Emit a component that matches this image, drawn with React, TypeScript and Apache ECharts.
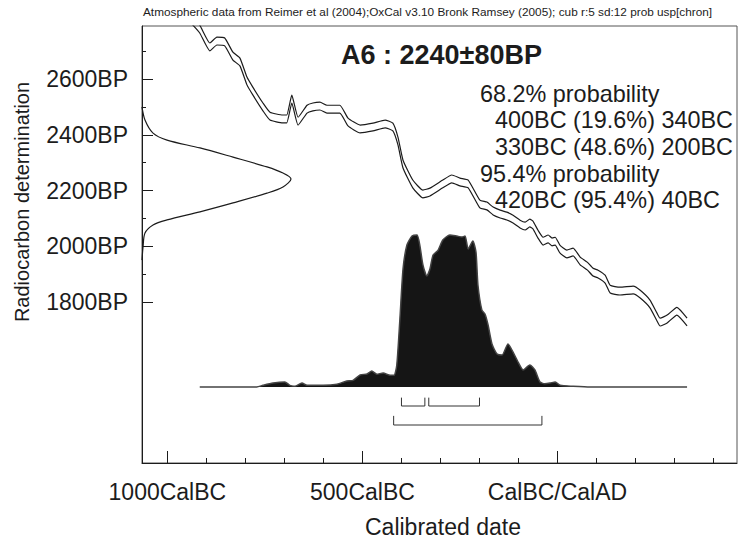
import React, { useEffect, useRef } from "react";
import * as echarts from "echarts";

const FONT = '"Liberation Sans", Arial, Helvetica, sans-serif';
const INK = "#1c1c1c";

// Axis ranges and ticks
const X_MIN = -1065;
const X_MAX = 460;
const Y_MIN = 1224;
const Y_MAX = 2790;
const X_MAJOR = [-1000, -500, 0];
const X_MINOR = [-900, -800, -700, -600, -400, -300, -200, -100, 100, 200, 300, 400];
const Y_MAJOR = [1800, 2000, 2200, 2400, 2600];
const Y_MINOR = [1900, 2100, 2300, 2500, 2700];

// Calibration curve (mean BP) and its 1-sigma half-width
const CURVE_YEARS = [
  -937, -917, -891, -873, -853, -832, -814, -796, -781, -755, -737, -704, -694, -681, -665, -642,
  -627, -609, -591, -558, -537, -506, -473, -442, -422, -409, -396, -371, -345, -327, -294, -271,
  -250, -229, -199, -181, -165, -147, -130, -114, -96, -83, -71, -63, -50, -37, -24, -14,
  -6, 6, 24, 40, 58, 76, 91, 104, 122, 135, 160, 194, 212, 237, 255, 263,
  281, 306, 332,
];
const CURVE_BP = [
  2811, 2779, 2715, 2736, 2733, 2682, 2661, 2593, 2557, 2500, 2467, 2457, 2457, 2528, 2449, 2492,
  2500, 2503, 2492, 2492, 2446, 2421, 2428, 2439, 2428, 2378, 2295, 2224, 2188, 2195, 2224, 2242,
  2231, 2224, 2152, 2145, 2127, 2116, 2109, 2098, 2080, 2073, 2084, 2077, 2044, 2019, 2027, 2016,
  2019, 1991, 1973, 1980, 1948, 1930, 1908, 1901, 1883, 1847, 1840, 1844, 1829, 1794, 1747, 1729,
  1740, 1768, 1729,
];
const CURVE_SIGMA = 14;

// Radiocarbon determination 2240±80BP (relative probability along BP axis)
const GAUSS_BP = [2500, 2453, 2406, 2381, 2353, 2320, 2285, 2263, 2242, 2213, 2191, 2156, 2124, 2095, 2077, 2048, 1998, 1951];
const GAUSS_P = [0, 0.02, 0.074, 0.168, 0.389, 0.611, 0.839, 0.946, 1.0, 0.946, 0.839, 0.611, 0.389, 0.168, 0.074, 0.02, 0.007, 0];

// Calibrated date probability distribution (relative)
const DENS_YEARS = [
  -917, -771, -755, -729, -699, -686, -673, -655, -642, -601, -565, -540, -524, -506, -488, -476,
  -463, -447, -429, -419, -412, -404, -396, -386, -373, -360, -353, -345, -335, -327, -319, -306,
  -294, -276, -258, -245, -237, -229, -217, -209, -204, -194, -186, -178, -168, -155, -142, -127,
  -114, -101, -88, -71, -58, -45, -33, -19, -6, 7, 40, 83, 332,
];
const DENS_P = [
  0, 0, 0.011, 0.026, 0.033, 0.011, 0.005, 0.026, 0.011, 0.011, 0.018, 0.04, 0.044, 0.079, 0.086, 0.105,
  0.084, 0.092, 0.077, 0.077, 0.143, 0.447, 0.776, 0.934, 0.993, 1.0, 0.934, 0.803, 0.73, 0.776, 0.868, 0.901,
  0.967, 1.0, 0.993, 0.987, 0.993, 0.908, 0.96, 0.888, 0.671, 0.507, 0.48, 0.408, 0.283, 0.217, 0.21, 0.283,
  0.23, 0.164, 0.112, 0.145, 0.112, 0.033, 0.022, 0.026, 0.033, 0.011, 0.005, 0, 0,
];

// Highest probability ranges
const RANGES_68 = [[-400, -340], [-330, -200]];
const RANGES_95 = [[-420, -40]];
const BRACKET_68 = { top: -0.07, bottom: -0.125 };
const BRACKET_95 = { top: -0.19, bottom: -0.25 };

// Texts
const HEADER = "Atmospheric data from Reimer et al (2004);OxCal v3.10 Bronk Ramsey (2005); cub r:5 sd:12 prob usp[chron]";
const SAMPLE_TITLE = "A6 : 2240±80BP";
const PROB_HEADS = ["68.2% probability", "95.4% probability"];
const PROB_RANGES_68 = ["400BC (19.6%) 340BC", "330BC (48.6%) 200BC"];
const PROB_RANGES_95 = ["420BC (95.4%) 40BC"];
const X_TITLE = "Calibrated date";
const Y_TITLE = "Radiocarbon determination";

function xLabel(v: number): string {
  if (v < 0) return `${-v}CalBC`;
  if (v === 0) return "CalBC/CalAD";
  return `${v}CalAD`;
}

function bracketSeries(ranges: number[][], b: { top: number; bottom: number }) {
  return ranges.map(([a, c]) => ({
    type: "line",
    xAxisIndex: 0,
    yAxisIndex: 2,
    symbol: "none",
    silent: true,
    lineStyle: { color: "#333", width: 1 },
    data: [
      [a, b.top],
      [a, b.bottom],
      [c, b.bottom],
      [c, b.top],
    ],
  }));
}

function buildOption() {
  const upper = CURVE_YEARS.map((y, i) => [y, CURVE_BP[i] + CURVE_SIGMA]);
  const lower = CURVE_YEARS.map((y, i) => [y, CURVE_BP[i] - CURVE_SIGMA]);
  const gauss = GAUSS_BP.map((bp, i) => [GAUSS_P[i], bp]);
  const dens = DENS_YEARS.map((y, i) => [y, DENS_P[i]]);

  const textStyle = (size: number, weight = "normal") => ({
    font: `${weight} ${size}px ${FONT}`,
    fill: INK,
  });

  const probLines: any[] = [];
  const lineY = [93.5, 120, 147, 174, 199.5];
  const lines = [
    { t: PROB_HEADS[0], x: 480 },
    { t: PROB_RANGES_68[0], x: 495 },
    { t: PROB_RANGES_68[1], x: 495 },
    { t: PROB_HEADS[1], x: 480 },
    { t: PROB_RANGES_95[0], x: 495 },
  ];
  lines.forEach((l, i) => {
    probLines.push({
      type: "text",
      x: l.x,
      y: lineY[i],
      style: { text: l.t, ...textStyle(23.4), align: "left", verticalAlign: "middle" },
    });
  });

  const noZero = { onZero: false };

  return {
    animation: false,
    backgroundColor: "#ffffff",
    grid: {
      left: 142,
      top: 26,
      right: 1,
      bottom: 78,
      show: true,
      borderColor: "#555",
      borderWidth: 1,
      backgroundColor: "transparent",
    },
    xAxis: [
      {
        type: "value",
        min: X_MIN,
        max: X_MAX,
        position: "bottom",
        axisLine: { show: true, onZero: false, lineStyle: { color: INK, width: 1 } },
        axisTick: { show: true, inside: true, length: 12, customValues: X_MAJOR, lineStyle: { color: INK } },
        axisLabel: {
          customValues: X_MAJOR,
          formatter: xLabel,
          fontSize: 23,
          fontFamily: FONT,
          color: INK,
          margin: 17,
        },
        splitLine: { show: false },
      },
      {
        type: "value",
        min: X_MIN,
        max: X_MAX,
        position: "bottom",
        axisLine: { show: false, onZero: false },
        axisTick: { show: true, inside: true, length: 5, customValues: X_MINOR, lineStyle: { color: INK } },
        axisLabel: { show: false },
        splitLine: { show: false },
      },
      { type: "value", min: 0, max: 3.993, show: false, position: "top", axisLine: noZero },
    ],
    yAxis: [
      {
        type: "value",
        min: Y_MIN,
        max: Y_MAX,
        position: "left",
        axisLine: { show: true, onZero: false, lineStyle: { color: INK, width: 1 } },
        axisTick: { show: true, inside: true, length: 11, customValues: Y_MAJOR, lineStyle: { color: INK } },
        axisLabel: {
          customValues: Y_MAJOR,
          formatter: (v: number) => `${v}BP`,
          fontSize: 23,
          fontFamily: FONT,
          color: INK,
          margin: 14,
        },
        splitLine: { show: false },
      },
      {
        type: "value",
        min: Y_MIN,
        max: Y_MAX,
        position: "left",
        axisLine: { show: false, onZero: false },
        axisTick: { show: true, inside: true, length: 4, customValues: Y_MINOR, lineStyle: { color: INK } },
        axisLabel: { show: false },
        splitLine: { show: false },
      },
      { type: "value", min: -0.5, max: 2.375, show: false, position: "right", axisLine: noZero },
    ],
    series: [
      {
        type: "line",
        name: "density",
        xAxisIndex: 0,
        yAxisIndex: 2,
        symbol: "none",
        smooth: 0.2,
        silent: true,
        lineStyle: { color: "#444", width: 1.5 },
        areaStyle: { color: "#151515", opacity: 1, origin: "auto" },
        data: dens,
      },
      {
        type: "line",
        name: "curve+",
        xAxisIndex: 0,
        yAxisIndex: 0,
        symbol: "none",
        smooth: 0.15,
        silent: true,
        lineStyle: { color: INK, width: 1.2 },
        data: upper,
      },
      {
        type: "line",
        name: "curve-",
        xAxisIndex: 0,
        yAxisIndex: 0,
        symbol: "none",
        smooth: 0.15,
        silent: true,
        lineStyle: { color: INK, width: 1.2 },
        data: lower,
      },
      {
        type: "line",
        name: "c14",
        xAxisIndex: 2,
        yAxisIndex: 0,
        symbol: "none",
        smooth: 0.3,
        silent: true,
        lineStyle: { color: INK, width: 1.2 },
        data: gauss,
      },
      ...bracketSeries(RANGES_68, BRACKET_68),
      ...bracketSeries(RANGES_95, BRACKET_95),
    ],
    graphic: [
      {
        type: "text",
        x: 143,
        y: 12,
        style: { text: HEADER, ...textStyle(11.8), align: "left", verticalAlign: "middle" },
      },
      {
        type: "text",
        x: 341,
        y: 55,
        style: { text: SAMPLE_TITLE, ...textStyle(27, "bold"), align: "left", verticalAlign: "middle" },
      },
      ...probLines,
      {
        type: "text",
        x: 443,
        y: 527,
        style: { text: X_TITLE, ...textStyle(23), align: "center", verticalAlign: "middle" },
      },
      {
        type: "text",
        x: 22,
        y: 202,
        rotation: Math.PI / 2,
        style: { text: Y_TITLE, ...textStyle(20), align: "center", verticalAlign: "middle" },
      },
    ],
  };
}

export default function App() {
  const ref = useRef<HTMLDivElement>(null);
  useEffect(() => {
    document.body.style.margin = "0";
    const chart = echarts.init(ref.current!, null, { renderer: "svg" });
    chart.setOption(buildOption() as any);
    return () => chart.dispose();
  }, []);
  return (
    <div
      ref={ref}
      style={{ position: "absolute", left: 0, top: 0, width: 738, height: 541, background: "#fff" }}
    />
  );
}
